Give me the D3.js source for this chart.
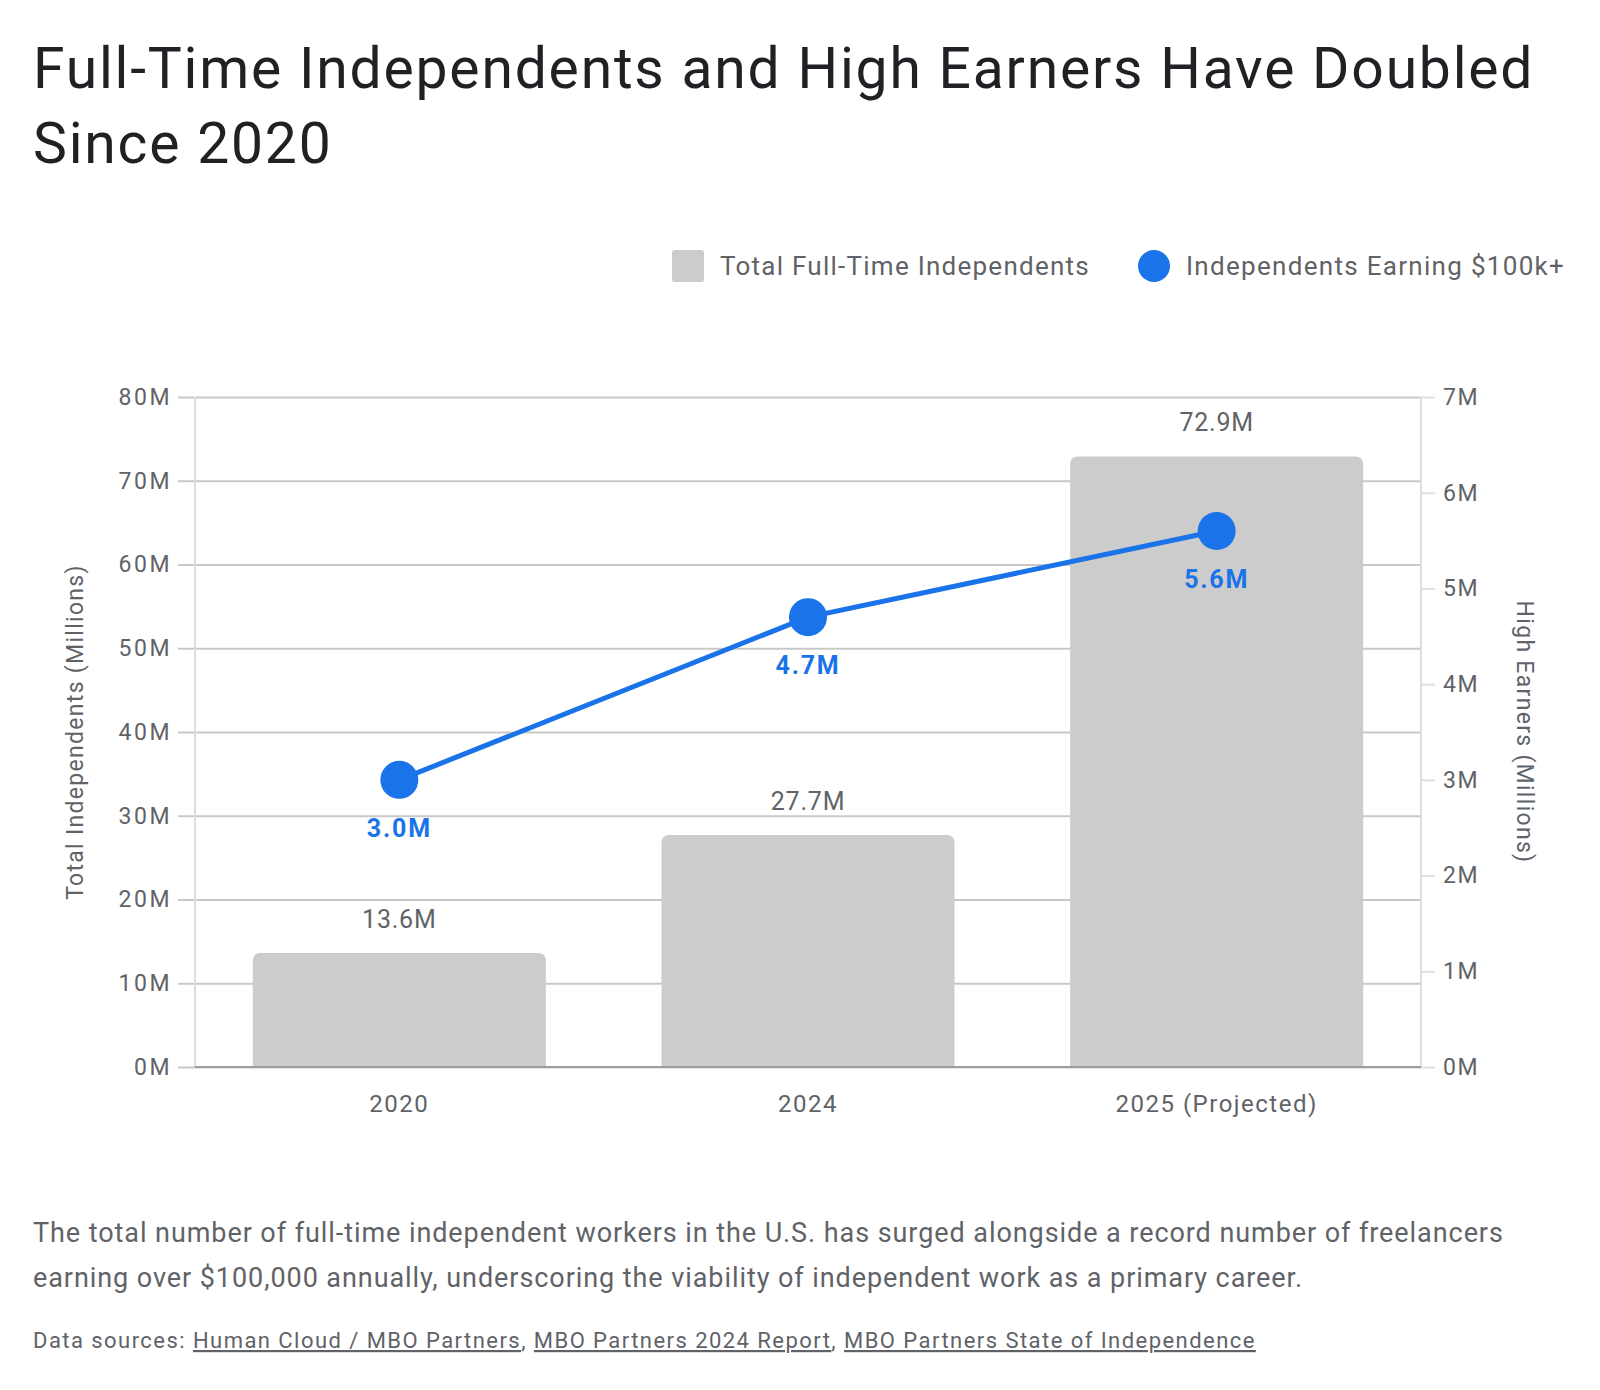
<!DOCTYPE html>
<html>
<head>
<meta charset="utf-8">
<script src="https://cdn.jsdelivr.net/npm/d3@7"></script>
<style>
  body { margin: 0; background: #fff; }
  svg text { font-family: Roboto, "Noto Sans", sans-serif; }
</style>
</head>
<body>
<div id="chart"></div>
<script>
// Data

let years = ["2020", "2024", "2025 (Projected)"];
let totalIndependents = [13.6, 27.7, 72.9];
let highEarners = [3.0, 4.7, 5.6];
let leftTicks = [0, 10, 20, 30, 40, 50, 60, 70, 80];
let rightTicks = [0, 1, 2, 3, 4, 5, 6, 7];

// Sizes

let svgWidth = 1600;
let svgHeight = 1390;

let margin = { top: 397, left: 195, right: 179, bottom: 323 };
let chartWidth = svgWidth - margin.left - margin.right;
let chartHeight = svgHeight - margin.top - margin.bottom;

let blue = "#1a73e8";
let barGrey = "#cccccc";
let textGrey = "#5f6368";

let svg = d3.select("#chart")
    .append("svg")
    .attr("width", svgWidth)
    .attr("height", svgHeight);

// Title

let title = svg.append("text")
    .attr("x", 33)
    .attr("y", 88)
    .attr("fill", "#202124")
    .style("font-size", "57px")
    .style("letter-spacing", "1.8px");
title.append("tspan").attr("x", 33).attr("y", 88).text("Full-Time Independents and High Earners Have Doubled");
title.append("tspan").attr("x", 33).attr("y", 163).text("Since 2020");

// Legend

let legend = svg.append("g").attr("transform", "translate(0, 266)");
legend.append("rect")
    .attr("x", 672).attr("y", -16)
    .attr("width", 32).attr("height", 32)
    .attr("rx", 3)
    .attr("fill", barGrey);
legend.append("text")
    .attr("x", 720).attr("y", 9)
    .attr("fill", textGrey)
    .style("font-size", "26px")
    .style("letter-spacing", "1.25px")
    .text("Total Full-Time Independents");
legend.append("circle")
    .attr("cx", 1154).attr("cy", 0)
    .attr("r", 16)
    .attr("fill", blue);
legend.append("text")
    .attr("x", 1186).attr("y", 9)
    .attr("fill", textGrey)
    .style("font-size", "26px")
    .style("letter-spacing", "1.3px")
    .text("Independents Earning $100k+");

// Scales

let x = d3.scaleBand()
    .domain(years)
    .range([0, chartWidth])
    .paddingInner(0.283)
    .paddingOuter(0.1415);

let yLeft = d3.scaleLinear().domain([0, 80]).range([chartHeight, 0]);
let yRight = d3.scaleLinear().domain([0, 7]).range([chartHeight, 0]);

let chartGroup = svg.append("g")
    .attr("transform", `translate(${margin.left}, ${margin.top})`);

// Left axis with gridlines

let leftAxis = chartGroup.append("g")
    .call(d3.axisLeft(yLeft)
        .tickValues(leftTicks)
        .tickSize(-chartWidth - 17)
        .tickPadding(6)
        .tickFormat(d => d + "M"));
leftAxis.selectAll(".tick line")
    .attr("x1", -17)
    .attr("x2", chartWidth)
    .attr("stroke", "#c8c8c8")
    .attr("stroke-width", 2);
leftAxis.selectAll(".tick text")
    .attr("x", -23)
    .attr("fill", textGrey)
    .style("font-size", "23px")
    .style("letter-spacing", "2.5px");
leftAxis.select(".domain").remove();

// Right axis

let rightAxis = chartGroup.append("g")
    .attr("transform", `translate(${chartWidth}, 0)`)
    .call(d3.axisRight(yRight)
        .tickValues(rightTicks)
        .tickSize(14)
        .tickPadding(8)
        .tickFormat(d => d + "M"));
rightAxis.selectAll(".tick line")
    .attr("stroke", "#e0e0e0")
    .attr("stroke-width", 2);
rightAxis.selectAll(".tick text")
    .attr("fill", textGrey)
    .style("font-size", "23px")
    .style("letter-spacing", "1.5px");
rightAxis.select(".domain").remove();

// Vertical axis lines

chartGroup.append("line")
    .attr("x1", 0).attr("x2", 0)
    .attr("y1", 0).attr("y2", chartHeight)
    .attr("stroke", "#dddddd").attr("stroke-width", 2);
chartGroup.append("line")
    .attr("x1", chartWidth).attr("x2", chartWidth)
    .attr("y1", 0).attr("y2", chartHeight)
    .attr("stroke", "#dddddd").attr("stroke-width", 2);

// Bars, rounded on top only

let r = 8;
chartGroup.selectAll(".bar")
    .data(years)
    .enter()
    .append("path")
    .attr("class", "bar")
    .attr("fill", barGrey)
    .attr("d", (d, i) => {
        let x0 = x(d);
        let w = x.bandwidth();
        let y0 = yLeft(totalIndependents[i]);
        let y1 = yLeft(0);
        return `M${x0},${y1} V${y0 + r} Q${x0},${y0} ${x0 + r},${y0} H${x0 + w - r} Q${x0 + w},${y0} ${x0 + w},${y0 + r} V${y1} Z`;
    });

// Baseline

chartGroup.append("line")
    .attr("x1", 0).attr("x2", chartWidth)
    .attr("y1", chartHeight).attr("y2", chartHeight)
    .attr("stroke", "#9e9e9e").attr("stroke-width", 2);

// Bar labels

chartGroup.selectAll(".barLabel")
    .data(years)
    .enter()
    .append("text")
    .attr("x", d => x(d) + x.bandwidth() / 2)
    .attr("y", (d, i) => yLeft(totalIndependents[i]) - 25)
    .attr("text-anchor", "middle")
    .attr("fill", textGrey)
    .style("font-size", "25px")
    .style("letter-spacing", "0.8px")
    .text((d, i) => totalIndependents[i].toFixed(1) + "M");

// X axis labels

chartGroup.selectAll(".xLabel")
    .data(years)
    .enter()
    .append("text")
    .attr("x", d => x(d) + x.bandwidth() / 2)
    .attr("y", chartHeight + 45)
    .attr("text-anchor", "middle")
    .attr("fill", textGrey)
    .style("font-size", "24px")
    .style("letter-spacing", "1.5px")
    .text(d => d);

// High earners line

let line = d3.line()
    .x((d, i) => x(years[i]) + x.bandwidth() / 2)
    .y(d => yRight(d));

chartGroup.append("path")
    .datum(highEarners)
    .attr("d", line)
    .attr("fill", "none")
    .attr("stroke", blue)
    .attr("stroke-width", 5);

chartGroup.selectAll(".dot")
    .data(highEarners)
    .enter()
    .append("circle")
    .attr("cx", (d, i) => x(years[i]) + x.bandwidth() / 2)
    .attr("cy", d => yRight(d))
    .attr("r", 19)
    .attr("fill", blue);

chartGroup.selectAll(".dotLabel")
    .data(highEarners)
    .enter()
    .append("text")
    .attr("x", (d, i) => x(years[i]) + x.bandwidth() / 2)
    .attr("y", d => yRight(d) + 57)
    .attr("text-anchor", "middle")
    .attr("fill", blue)
    .style("font-size", "25px")
    .style("font-weight", "bold")
    .style("letter-spacing", "1.8px")
    .text(d => d.toFixed(1) + "M");

// Axis titles

svg.append("text")
    .attr("transform", `translate(83, ${margin.top + chartHeight / 2}) rotate(-90)`)
    .attr("text-anchor", "middle")
    .attr("fill", textGrey)
    .style("font-size", "23px")
    .style("letter-spacing", "1.3px")
    .text("Total Independents (Millions)");

svg.append("text")
    .attr("transform", `translate(1517, ${margin.top + chartHeight / 2}) rotate(90)`)
    .attr("text-anchor", "middle")
    .attr("fill", textGrey)
    .style("font-size", "23px")
    .style("letter-spacing", "1.3px")
    .text("High Earners (Millions)");

// Caption

let caption = svg.append("text")
    .attr("fill", textGrey)
    .style("font-size", "27px")
    .style("letter-spacing", "0.93px");
caption.append("tspan").attr("x", 33).attr("y", 1242)
    .text("The total number of full-time independent workers in the U.S. has surged alongside a record number of freelancers");
caption.append("tspan").attr("x", 33).attr("y", 1287)
    .text("earning over $100,000 annually, underscoring the viability of independent work as a primary career.");

// Sources

let sources = svg.append("text")
    .attr("x", 33)
    .attr("y", 1348)
    .attr("fill", textGrey)
    .style("font-size", "22px")
    .style("letter-spacing", "1.45px");
sources.append("tspan").text("Data sources: ");
sources.append("tspan").style("text-decoration", "underline").text("Human Cloud / MBO Partners");
sources.append("tspan").text(", ");
sources.append("tspan").style("text-decoration", "underline").text("MBO Partners 2024 Report");
sources.append("tspan").text(", ");
sources.append("tspan").style("text-decoration", "underline").text("MBO Partners State of Independence");
</script>
</body>
</html>
